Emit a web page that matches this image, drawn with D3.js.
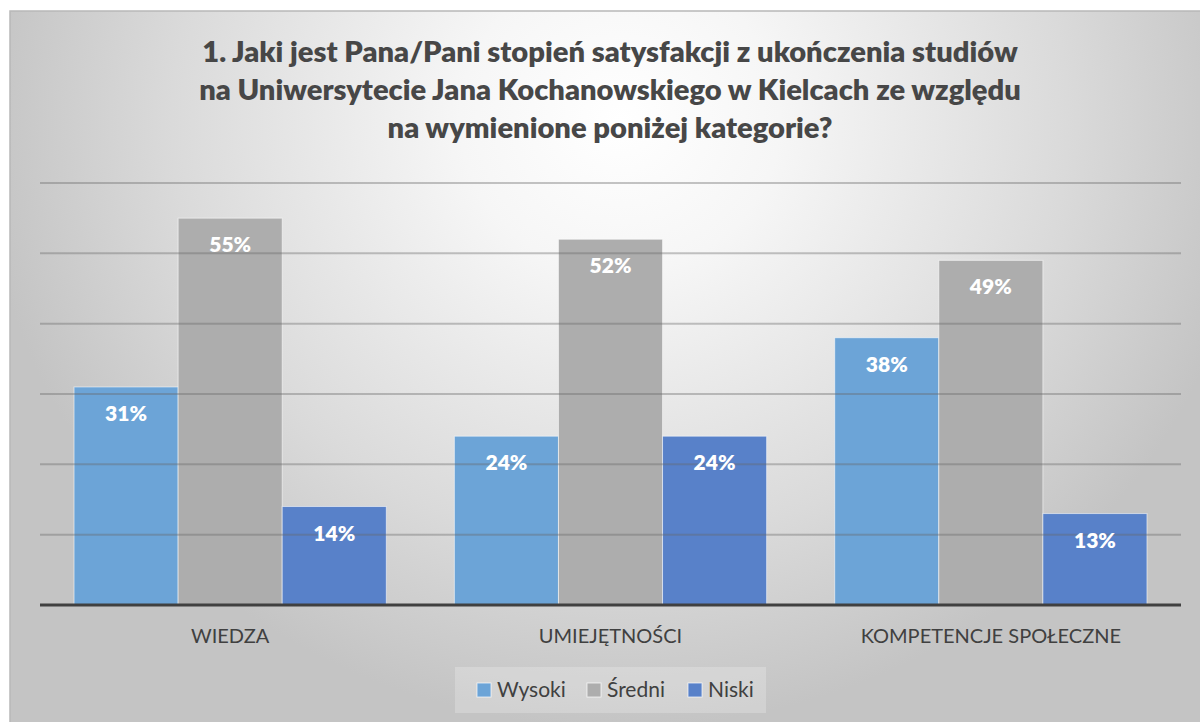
<!DOCTYPE html>
<html><head><meta charset="utf-8">
<script src="https://cdn.jsdelivr.net/npm/d3@7"></script>
<style>html,body{margin:0;padding:0;background:#fff;}svg{display:block;}</style>
</head><body>
<svg id="c" width="1200" height="722"></svg>
<script>
const categories = ["WIEDZA", "UMIEJĘTNOŚCI", "KOMPETENCJE SPOŁECZNE"];
const seriesNames = ["Wysoki", "Średni", "Niski"];
const wysoki = [31, 24, 38];
const sredni = [55, 52, 49];
const niski = [14, 24, 13];
const yTicks = [10, 20, 30, 40, 50, 60];
const titleLines = [
  "1. Jaki jest Pana/Pani stopień satysfakcji z ukończenia studiów",
  "na Uniwersytecie Jana Kochanowskiego w Kielcach ze względu",
  "na wymienione poniżej kategorie?"
];
const colors = ["#6ca4d7", "#adadad", "#5881c9"];

const values = [wysoki, sredni, niski];
const FONT = "Lato, 'Open Sans', sans-serif";
const svg = d3.select("#c");
const defs = svg.append("defs");
const rg = defs.append("radialGradient").attr("id", "bg")
  .attr("gradientUnits", "userSpaceOnUse")
  .attr("cx", 620).attr("cy", 120).attr("r", 640)
  .attr("gradientTransform", "translate(620,120) scale(1,0.95) translate(-620,-120)");
rg.append("stop").attr("offset", 0).attr("stop-color", "#ffffff");
rg.append("stop").attr("offset", 0.25).attr("stop-color", "#f6f6f6");
rg.append("stop").attr("offset", 0.7).attr("stop-color", "#dadada");
rg.append("stop").attr("offset", 1).attr("stop-color", "#c4c4c4");

svg.append("rect").attr("x", 10).attr("y", 11).attr("width", 1200).attr("height", 720)
  .attr("fill", "url(#bg)").attr("stroke", "#b8b8b8").attr("stroke-width", 1.5);

const x0 = d3.scaleBand().domain(categories).range([40, 1181])
  .paddingInner(0.179).paddingOuter(0.0895);
const x1 = d3.scaleBand().domain(seriesNames).range([0, x0.bandwidth()]);
const y = d3.scaleLinear().domain([0, 60]).range([605, 183]);

// bars
const g = svg.append("g");
categories.forEach((c, ci) => {
  seriesNames.forEach((s, si) => {
    const v = values[si][ci];
    g.append("rect")
      .attr("x", x0(c) + x1(s)).attr("y", y(v))
      .attr("width", x1.bandwidth()).attr("height", y(0) - y(v))
      .attr("fill", colors[si])
      .attr("stroke", "rgba(255,255,255,0.55)").attr("stroke-width", 1);
  });
});

// gridlines (drawn over, semi transparent)
svg.append("g").selectAll("line").data(yTicks).join("line")
  .attr("x1", 40).attr("x2", 1181)
  .attr("y1", d => y(d)).attr("y2", d => y(d))
  .attr("stroke", "#666666").attr("stroke-opacity", 0.38).attr("stroke-width", 2);

// baseline axis
const xAxis = d3.axisBottom(x0).tickSize(0).tickPadding(0);
const ax = svg.append("g").attr("transform", `translate(0,${y(0)})`).call(xAxis);
ax.select(".domain").attr("stroke", "#404040").attr("stroke-width", 3)
  .attr("d", "M40,0H1181");
ax.selectAll(".tick text").attr("y", 38).attr("dy", 0)
  .attr("font-family", FONT).attr("font-size", 20).attr("fill", "#404040");

// data labels
categories.forEach((c, ci) => {
  seriesNames.forEach((s, si) => {
    const v = values[si][ci];
    svg.append("text")
      .attr("x", x0(c) + x1(s) + x1.bandwidth() / 2)
      .attr("y", y(v) + 34)
      .attr("text-anchor", "middle")
      .attr("font-family", FONT).attr("font-weight", 800).attr("font-size", 21)
      .attr("fill", "#ffffff").text(v + "%");
  });
});

// title
const tg = svg.append("g");
titleLines.forEach((t, i) => {
  tg.append("text").attr("x", 610).attr("y", 62 + i * 38)
    .attr("text-anchor", "middle")
    .attr("font-family", FONT).attr("font-weight", 800).attr("font-size", 27)
    .attr("fill", "#474747").text(t);
});
// fit title width to target (~816px for first line)
const w0 = tg.select("text").node().getComputedTextLength();
const fs = 27 * 816 / w0;
tg.selectAll("text").attr("font-size", fs);

// legend
const lg = svg.append("g");
lg.append("rect").attr("x", 455).attr("y", 667).attr("width", 311).attr("height", 46)
  .attr("fill", "#ffffff").attr("fill-opacity", 0.22);
const legX = [477, 587, 688];
seriesNames.forEach((s, i) => {
  lg.append("rect").attr("x", legX[i]).attr("y", 683).attr("width", 14).attr("height", 14)
    .attr("fill", colors[i]).attr("stroke", "rgba(255,255,255,0.7)").attr("stroke-width", 1);
  lg.append("text").attr("x", legX[i] + 20).attr("y", 697)
    .attr("font-family", FONT).attr("font-size", 21).attr("fill", "#404040").text(s);
});
</script>
</body></html>
